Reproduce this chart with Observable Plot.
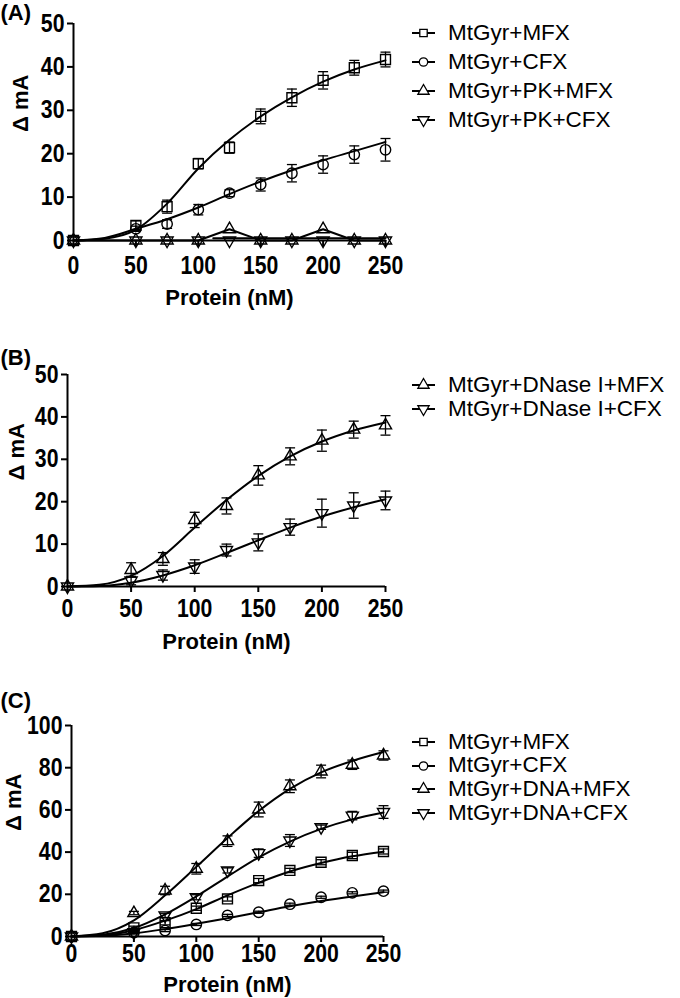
<!DOCTYPE html>
<html>
<head>
<meta charset="utf-8">
<script src="https://cdn.jsdelivr.net/npm/d3@7"></script>
<script src="https://cdn.jsdelivr.net/npm/@observablehq/plot@0.6"></script>
<style>
  html, body { margin: 0; padding: 0; background: #fff; }
  #root { position: relative; width: 680px; height: 998px; overflow: hidden; font-family: "Liberation Sans", Arial, Helvetica, sans-serif; }
  .panel { position: absolute; left: 0; }
  .legend { position: absolute; left: 410px; font-size: 22.5px; line-height: 1; color: #000; }
  .legend .row { display: flex; align-items: center; white-space: nowrap; overflow: visible; }
  .legend svg { width: 30px; height: 20px; margin-right: 8px; flex: none; }
</style>
</head>
<body>
<div id="root"></div>
<script>
// ---------- data ----------
const proteinNM = [0, 50, 75, 100, 125, 150, 175, 200, 225, 250];
const fitNM = [0, 25, 50, 75, 100, 125, 150, 175, 200, 225, 250];
const xTicks = [0, 50, 100, 150, 200, 250];

// Panel A
const aLabels = ["MtGyr+MFX", "MtGyr+CFX", "MtGyr+PK+MFX", "MtGyr+PK+CFX"];
const aMFX    = [0, 3.5, 7.8, 17.7, 21.4, 28.6, 32.9, 36.9, 39.8, 41.7];
const aMFXErr = [0, 1.0, 1.5, 1.2, 1.3, 1.7, 2.0, 2.0, 1.7, 1.7];
const aMFXFit = [0, 0.4, 2.5, 8.5, 16.6, 23.2, 28.6, 33.0, 36.6, 39.4, 41.5];
const aCFX    = [0, 2.7, 3.8, 7.1, 10.9, 12.9, 15.5, 17.5, 19.8, 20.9];
const aCFXErr = [0, 0.6, 1.0, 1.2, 0.8, 1.5, 2.0, 2.0, 2.0, 2.6];
const aCFXFit = [0, 0.6, 2.7, 4.9, 7.6, 10.7, 13.6, 16.2, 18.5, 20.6, 22.7];
const aPKMFX  = [0, 0, 0, 0, 2.6, 0, 0, 2.6, 0, 0];
const aPKCFX  = [0, 0, 0, 0, 0, 0, 0, 0, 0, 0];
const aPKFitNM = [112, 250];
const aPKFit   = [0.5, 0.5];
const aYTicks = [0, 10, 20, 30, 40, 50];

// Panel B
const bLabels = ["MtGyr+DNase I+MFX", "MtGyr+DNase I+CFX"];
const bMFX    = [0, 3.9, 6.5, 15.7, 19.0, 26.2, 30.7, 34.4, 37.0, 38.0];
const bMFXErr = [0, 1.7, 1.5, 1.8, 1.9, 2.3, 2.0, 2.5, 2.0, 2.3];
const bMFXFit = [0, 0.4, 2.5, 7.2, 13.9, 20.4, 26.1, 30.7, 34.2, 36.8, 38.7];
const bCFX    = [0, 1.4, 2.7, 4.7, 8.6, 10.4, 14.0, 17.3, 19.1, 20.3];
const bCFXErr = [0, 1.0, 1.2, 1.6, 1.4, 2.0, 1.9, 3.3, 3.0, 2.2];
const bCFXFit = [0, 0.1, 0.9, 2.6, 5.0, 7.9, 10.9, 13.9, 16.5, 18.7, 20.6];
const bYTicks = [0, 10, 20, 30, 40, 50];

// Panel C
const cLabels = ["MtGyr+MFX", "MtGyr+CFX", "MtGyr+DNA+MFX", "MtGyr+DNA+CFX"];
const cMFX       = [0, 4.1, 6.5, 13.4, 17.8, 26.5, 31.3, 35.2, 38.4, 40.3];
const cMFXErr    = [0, 0.8, 1.0, 1.0, 1.0, 1.0, 1.0, 1.2, 1.5, 1.2];
const cMFXFit    = [0, 0.5, 3.0, 7.5, 13.0, 19.5, 25.5, 30.8, 34.8, 38.0, 40.2];
const cCFX       = [0, 1.9, 2.8, 5.7, 10.0, 11.5, 15.3, 18.6, 20.7, 21.5];
const cCFXErr    = [0, 0.5, 0.5, 0.5, 0.5, 0.5, 0.5, 0.5, 0.5, 0.5];
const cCFXFit    = [0, 0.3, 1.5, 3.5, 6.0, 8.7, 11.5, 14.3, 16.8, 19.0, 21.0];
const cDNAMFX    = [0, 11.1, 21.8, 32.1, 45.2, 60.2, 71.2, 78.2, 81.4, 85.8];
const cDNAMFXErr = [0, 0.8, 2.0, 2.5, 2.5, 3.5, 3.0, 3.0, 2.2, 2.2];
const cDNAMFXFit = [0, 1.5, 7.6, 19.5, 33.0, 46.7, 59.5, 70.0, 77.8, 83.2, 87.4];
const cDNACFX    = [0, 2.0, 10.0, 18.6, 31.3, 39.5, 45.5, 51.8, 57.3, 59.0];
const cDNACFXErr = [0, 0.8, 1.0, 1.2, 1.2, 2.0, 2.8, 1.0, 2.0, 3.0];
const cDNACFXFit = [0, 0.8, 4.0, 10.5, 19.0, 28.4, 37.5, 45.0, 51.0, 55.5, 58.8];
const cYTicks = [0, 20, 40, 60, 80, 100];

// ---------- symbols ----------
const FONT = '"Liberation Sans", Arial, Helvetica, sans-serif';
const FS = 22;        // label font size
const TICK_FS = 25;   // tick label font size (glyphs are tall/narrow in the reference)
const TICK_SQUEEZE = 0.85;
const triDown = {
  draw(ctx, size) {
    const y = Math.sqrt(size / (3 * Math.sqrt(3)));
    ctx.moveTo(0, 2 * y);
    ctx.lineTo(Math.sqrt(3) * y, -y);
    ctx.lineTo(-Math.sqrt(3) * y, -y);
    ctx.closePath();
  }
};
const triUp = d3.symbolTriangle;
const cap = { draw(ctx, size) { ctx.moveTo(-5, 0); ctx.lineTo(5, 0); } };

const SYM = {
  square: { type: d3.symbolSquare, r: 5.6 },
  circle: { type: d3.symbolCircle, r: 5.2 },
  up: { type: triUp, r: 4.5 },
  down: { type: triDown, r: 4.5 }
};

function pts(vals, errs) {
  return proteinNM.map((x, i) => ({ x, y: vals[i], e: errs ? errs[i] : 0 }));
}
function fitPts(xs, vals) {
  return xs.map((x, i) => ({ x, y: vals[i] }));
}

function seriesMarks(s) {
  const marks = [];
  const data = pts(s.vals, s.errs);
  if (s.fit) marks.push(Plot.line(fitPts(s.fitX || fitNM, s.fit), { x: "x", y: "y", curve: s.fitX ? "linear" : "monotone-x", stroke: "#000", strokeWidth: 2 }));
  if (s.connect) marks.push(Plot.line(data, { x: "x", y: "y", stroke: "#000", strokeWidth: 2 }));
  if (s.errs) {
    const ed = data.filter(d => d.e > 0);
    marks.push(Plot.ruleX(ed, { x: "x", y1: d => d.y - d.e, y2: d => d.y + d.e, stroke: "#000", strokeWidth: 1.3 }));
    marks.push(Plot.dot(ed, { x: "x", y: d => d.y + d.e, symbol: cap, r: 3, stroke: "#000", strokeWidth: 1.3, fill: "none" }));
    marks.push(Plot.dot(ed, { x: "x", y: d => d.y - d.e, symbol: cap, r: 3, stroke: "#000", strokeWidth: 1.3, fill: "none" }));
  }
  marks.push(Plot.dot(data, { x: "x", y: "y", symbol: SYM[s.sym].type, r: SYM[s.sym].r, stroke: "#000", strokeWidth: 1.4, fill: "none" }));
  return marks;
}

function panel(cfg) {
  return Plot.plot({
    width: 420,
    height: cfg.height,
    marginLeft: cfg.ml, marginRight: 420 - cfg.xr, marginTop: cfg.mt, marginBottom: cfg.mb,
    style: { fontFamily: FONT, fontSize: FS + "px", fontWeight: "bold", color: "#000", background: "transparent", overflow: "visible" },
    x: { domain: [0, 250] },
    y: { domain: [0, cfg.ymax] },
    marks: [
      Plot.axisX({ ticks: xTicks, tickSize: 6, tickPadding: cfg.xpad, label: null, strokeWidth: 2, fontSize: TICK_FS, fontWeight: "bold" }),
      Plot.axisY({ ticks: cfg.yticks, tickSize: 6, tickPadding: 3, label: null, strokeWidth: 2, fontSize: TICK_FS, fontWeight: "bold" }),
      Plot.ruleX([0], { stroke: "#000", strokeWidth: 2 }),
      Plot.ruleY([0], { stroke: "#000", strokeWidth: 2 }),
      ...cfg.series.flatMap(seriesMarks),
      Plot.text(["Δ mA"], { frameAnchor: "left", dx: cfg.ylabDx, rotate: -90, lineAnchor: "middle", fontSize: FS, fontWeight: "bold", fill: "#000" }),
      Plot.text(["Protein (nM)"], { frameAnchor: "bottom", dy: cfg.xlabDy, lineAnchor: "middle", fontSize: FS, fontWeight: "bold", fill: "#000" }),
      Plot.text([cfg.tag], { frameAnchor: "top-left", dx: -cfg.ml, dy: cfg.tagDy, lineAnchor: "middle", textAnchor: "start", fontSize: FS, fontWeight: "bold", fill: "#000" })
    ]
  });
}

function legend(labels, syms, top, rowH) {
  const div = document.createElement("div");
  div.className = "legend";
  div.style.top = top + "px";
  labels.forEach((lab, i) => {
    const row = document.createElement("div");
    row.className = "row";
    row.style.height = rowH + "px";
    const svg = d3.create("svg").attr("viewBox", "0 0 30 20");
    svg.append("line").attr("x1", 2).attr("x2", 25).attr("y1", 10).attr("y2", 10).attr("stroke", "#000").attr("stroke-width", 2);
    svg.append("path").attr("transform", "translate(13.5,10)")
      .attr("d", d3.symbol(SYM[syms[i]].type, 55)())
      .attr("fill", "#fff").attr("stroke", "#000").attr("stroke-width", 1.3);
    row.appendChild(svg.node());
    const t = document.createElement("span");
    t.textContent = lab;
    row.appendChild(t);
    div.appendChild(row);
  });
  return div;
}

const root = document.getElementById("root");
function place(node, top) {
  const d = document.createElement("div");
  d.className = "panel";
  d.style.top = top + "px";
  d.appendChild(node);
  root.appendChild(d);
  // tick labels in the reference are tall and narrow: squeeze them horizontally
  node.querySelectorAll('g[aria-label$="tick label"] text').forEach(t => {
    const len = t.getComputedTextLength();
    if (len > 0) {
      t.setAttribute("textLength", (len * TICK_SQUEEZE).toFixed(2));
      t.setAttribute("lengthAdjust", "spacingAndGlyphs");
    }
  });
}

place(panel({
  height: 320, ml: 73, xr: 385, mt: 23, mb: 80, ymax: 50, yticks: aYTicks, xpad: 10,
  ylabDx: -53, xlabDy: 57, tag: "(A)", tagDy: -11,
  series: [
    { vals: aMFX, errs: aMFXErr, fit: aMFXFit, sym: "square" },
    { vals: aCFX, errs: aCFXErr, fit: aCFXFit, sym: "circle" },
    { vals: aPKMFX, connect: true, fit: aPKFit, fitX: aPKFitNM, sym: "up" },
    { vals: aPKCFX, sym: "down" }
  ]
}), 0);

place(panel({
  height: 330, ml: 67, xr: 385, mt: 44, mb: 74, ymax: 50, yticks: bYTicks, xpad: 7,
  ylabDx: -51, xlabDy: 55, tag: "(B)", tagDy: -17,
  series: [
    { vals: bMFX, errs: bMFXErr, fit: bMFXFit, sym: "up" },
    { vals: bCFX, errs: bCFXErr, fit: bCFXFit, sym: "down" }
  ]
}), 330);

place(panel({
  height: 338, ml: 71, xr: 383, mt: 65, mb: 62, ymax: 100, yticks: cYTicks, xpad: 2,
  ylabDx: -58, xlabDy: 48, tag: "(C)", tagDy: -25,
  series: [
    { vals: cMFX, errs: cMFXErr, fit: cMFXFit, sym: "square" },
    { vals: cCFX, errs: cCFXErr, fit: cCFXFit, sym: "circle" },
    { vals: cDNAMFX, errs: cDNAMFXErr, fit: cDNAMFXFit, sym: "up" },
    { vals: cDNACFX, errs: cDNACFXErr, fit: cDNACFXFit, sym: "down" }
  ]
}), 660);

root.appendChild(legend(aLabels, ["square", "circle", "up", "down"], 18.5, 29));
root.appendChild(legend(bLabels, ["up", "down"], 373.5, 23.5));
root.appendChild(legend(cLabels, ["square", "circle", "up", "down"], 730, 23.7));
</script>
</body>
</html>
